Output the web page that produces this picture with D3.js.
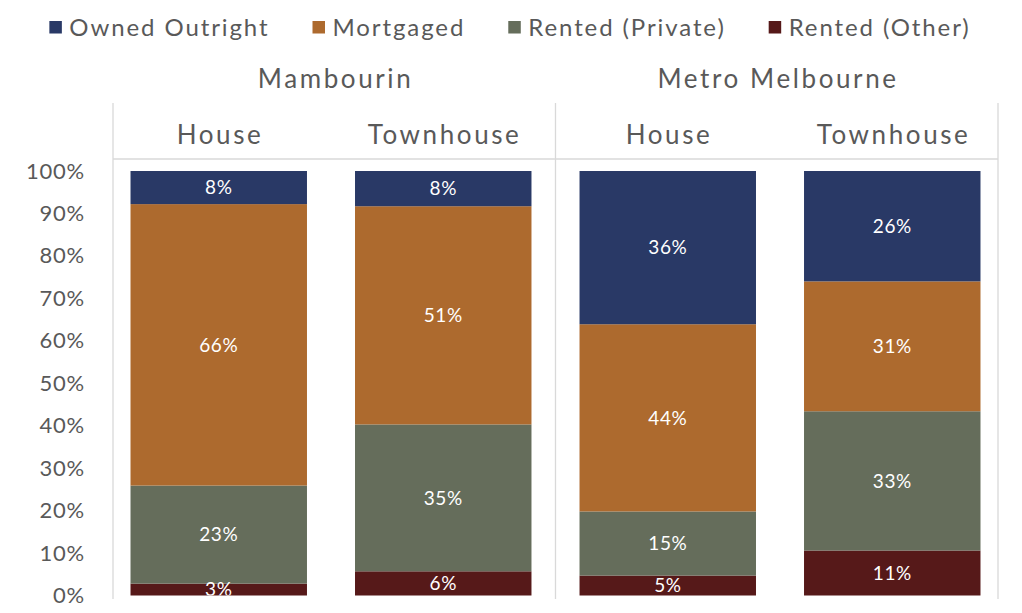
<!DOCTYPE html>
<html>
<head>
<meta charset="utf-8">
<script src="https://cdn.jsdelivr.net/npm/d3@7"></script>
<style>
  body { margin: 0; background: #fff; }
  text { font-family: "Century Gothic", "Lato", sans-serif; font-weight: 400; }
</style>
</head>
<body>
<div id="chart"></div>
<script>
// categories (two levels)
const groups = ["Mambourin", "Mambourin", "Metro Melbourne", "Metro Melbourne"];
const types = ["House", "Townhouse", "House", "Townhouse"];
const seriesNames = ["Owned Outright", "Mortgaged", "Rented (Private)", "Rented (Other)"];
// series values, % of dwellings
const ownedOutright = [7.8, 8.3, 36.1, 26.0];
const mortgaged = [66.3, 51.4, 44.1, 30.6];
const rentedPrivate = [23.1, 34.6, 15.1, 32.8];
const rentedOther = [2.8, 5.7, 4.7, 10.6];
// tick labels
const yTicks = [0, 10, 20, 30, 40, 50, 60, 70, 80, 90, 100];

const colors = {
  "Owned Outright": "#293966",
  "Mortgaged": "#ad6a2e",
  "Rented (Private)": "#656d5b",
  "Rented (Other)": "#561919"
};
const textGrey = "#595959";
const lineGrey = "#d9d9d9";

const W = 1022, H = 613;
const plotLeft = 113, plotRight = 998;
const headTop = 103, headMid = 159, lineBottom = 599;

const svg = d3.select("#chart").append("svg")
  .attr("width", W)
  .attr("height", H);

// build table for the stack
const keys = groups.map((g, i) => g + "|" + types[i]);
const table = keys.map((k, i) => ({
  key: k,
  "Owned Outright": ownedOutright[i],
  "Mortgaged": mortgaged[i],
  "Rented (Private)": rentedPrivate[i],
  "Rented (Other)": rentedOther[i]
}));
// bottom to top
const stackOrder = ["Rented (Other)", "Rented (Private)", "Mortgaged", "Owned Outright"];
const stacked = d3.stack().keys(stackOrder)(table);

const x = d3.scaleBand()
  .domain(keys)
  .range([plotLeft, plotRight])
  .paddingInner(0.214)
  .paddingOuter(0.078);

const y = d3.scaleLinear()
  .domain([0, 100])
  .range([595.5, 171]);

// clip labels at the bottom of the plot like Excel does
svg.append("defs").append("clipPath").attr("id", "plotClip")
  .append("rect")
  .attr("x", plotLeft)
  .attr("y", 0)
  .attr("width", plotRight - plotLeft)
  .attr("height", y(0));

// bars
const layer = svg.append("g").selectAll("g")
  .data(stacked)
  .join("g")
  .attr("fill", d => colors[d.key]);

layer.selectAll("rect")
  .data(d => d)
  .join("rect")
  .attr("x", d => x(d.data.key))
  .attr("width", x.bandwidth())
  .attr("y", d => y(d[1]))
  .attr("height", d => y(d[0]) - y(d[1]));

// data labels
const labels = svg.append("g").attr("clip-path", "url(#plotClip)");
stacked.forEach(s => {
  labels.selectAll(null)
    .data(s)
    .join("text")
    .attr("x", d => x(d.data.key) + x.bandwidth() / 2)
    .attr("y", d => (y(d[0]) + y(d[1])) / 2)
    .attr("dy", "0.36em")
    .attr("text-anchor", "middle")
    .attr("fill", "#fff")
    .style("font-size", "19px")
    .style("letter-spacing", "0.5px")
    .text(d => Math.round(d[1] - d[0]) + "%");
});

// y axis
const yAxis = svg.append("g")
  .attr("transform", `translate(${plotLeft},0)`)
  .call(d3.axisLeft(y).tickValues(yTicks).tickFormat(d => d + "%").tickSize(0).tickPadding(28));
yAxis.select(".domain").remove();
yAxis.selectAll("text")
  .attr("fill", textGrey)
  .style("font-size", "22px")
  .style("letter-spacing", "0.8px")
  .style("font-family", "\"Century Gothic\", \"Lato\", sans-serif")
  .style("font-weight", 400);

// multi-level category frame
const groupNames = Array.from(new Set(groups));
const groupBounds = groupNames.map(g => {
  const ks = keys.filter((k, i) => groups[i] === g);
  return { name: g, first: ks[0], last: ks[ks.length - 1] };
});
const step = x.step();
const gap = step - x.bandwidth();
const sepX = [plotLeft];
groupBounds.slice(0, -1).forEach(b => sepX.push(x(b.last) + x.bandwidth() + gap / 2));
sepX.push(plotRight);

const frame = svg.append("g").attr("stroke", lineGrey).attr("stroke-width", 1.3);
frame.selectAll("line.v")
  .data(sepX)
  .join("line")
  .attr("class", "v")
  .attr("x1", d => d).attr("x2", d => d)
  .attr("y1", headTop).attr("y2", lineBottom);
frame.append("line")
  .attr("x1", plotLeft).attr("x2", plotRight)
  .attr("y1", headMid).attr("y2", headMid);

// type labels
svg.append("g").selectAll("text")
  .data(keys)
  .join("text")
  .attr("x", k => x(k) + x.bandwidth() / 2 + 1.3)
  .attr("y", 144)
  .attr("text-anchor", "middle")
  .attr("fill", textGrey)
  .style("font-size", "26px")
  .style("letter-spacing", "2.6px")
  .text((k, i) => types[i]);

// group labels
svg.append("g").selectAll("text")
  .data(groupBounds)
  .join("text")
  .attr("x", (b, i) => (sepX[i] + sepX[i + 1]) / 2 + 1.3)
  .attr("y", 88)
  .attr("text-anchor", "middle")
  .attr("fill", textGrey)
  .style("font-size", "26px")
  .style("letter-spacing", "2.6px")
  .text(b => b.name);

// legend, centred
const legend = svg.append("g");
const items = legend.selectAll("g")
  .data(seriesNames)
  .join("g");
items.append("rect")
  .attr("width", 12.5).attr("height", 12.5)
  .attr("y", 21)
  .attr("fill", d => colors[d]);
items.append("text")
  .attr("x", 20)
  .attr("y", 36)
  .attr("fill", textGrey)
  .style("font-size", "24px")
  .style("letter-spacing", "1.9px")
  .text(d => d);
let cursor = 0;
items.each(function () {
  const g = d3.select(this);
  g.attr("transform", `translate(${cursor},0)`);
  cursor += 20 + g.select("text").node().getComputedTextLength() + 43;
});
const legendWidth = cursor - 43;
legend.attr("transform", `translate(${510 - legendWidth / 2},0)`);
</script>
</body>
</html>
